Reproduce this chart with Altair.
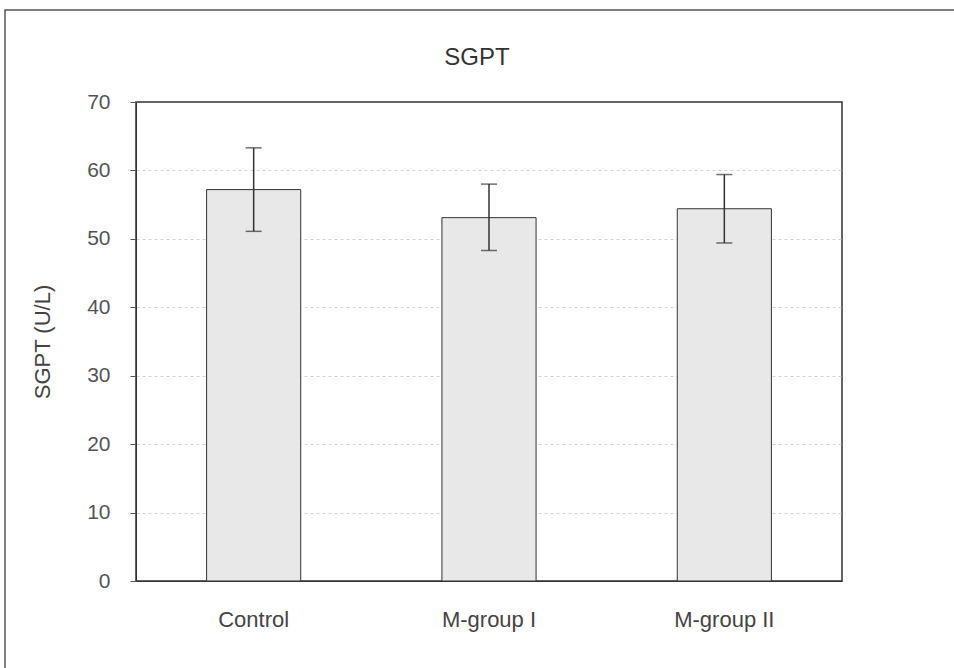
import altair as alt
import pandas as pd

groups = ["Control", "M-group I", "M-group II"]
means = [57.2, 53.1, 54.4]
err_low = [51.1, 48.3, 49.4]
err_high = [63.3, 58.0, 59.4]

df = pd.DataFrame({"group": groups, "mean": means, "lo": err_low, "hi": err_high})

FONT = "Liberation Sans"
x = alt.X("group:N", sort=groups, title=None,
          scale=alt.Scale(paddingInner=0.6, paddingOuter=0.3),
          axis=alt.Axis(labelAngle=0, ticks=False, labelPadding=28, labelFontSize=22,
                        labelColor="#444", domainColor="#333", labelFont=FONT, grid=False))
y_axis = alt.Axis(values=[0, 10, 20, 30, 40, 50, 60, 70], tickSize=6, tickColor="#555",
                  labelFontSize=21, labelColor="#555", labelPadding=20, labelFont=FONT,
                  domainColor="#333",
                  gridColor=alt.condition("datum.value >= 70 || datum.value <= 0",
                                          alt.value("transparent"), alt.value("#d2d2d2")),
                  gridDash=[3, 3], gridWidth=1,
                  title="SGPT (U/L)", titleFontSize=22, titleFontWeight="normal",
                  titleColor="#444", titleFont=FONT, titlePadding=32)

base = alt.Chart(df)
bars = base.mark_bar(fill="#e8e8e8", stroke="#333", strokeWidth=1).encode(
    x=x, y=alt.Y("mean:Q", scale=alt.Scale(domain=[0, 70], nice=False), axis=y_axis))
rules = base.mark_rule(color="#333", strokeWidth=1.5).encode(
    x=alt.X("group:N", sort=groups), y="lo:Q", y2="hi:Q")
cap_hi = base.mark_tick(color="#333", size=16, thickness=1.5, orient="horizontal").encode(
    x=alt.X("group:N", sort=groups), y="hi:Q")
cap_lo = base.mark_tick(color="#333", size=16, thickness=1.5, orient="horizontal").encode(
    x=alt.X("group:N", sort=groups), y="lo:Q")
frame = alt.Chart(pd.DataFrame({"a": [0]})).mark_rect(
    fill=None, stroke="#555", strokeWidth=1.5).encode(
    x=alt.value(-131), x2=alt.value(830), y=alt.value(-92), y2=alt.value(600))

chart = alt.layer(frame, bars, rules, cap_hi, cap_lo).properties(
    width=706, height=479,
    background="white",
    autosize=alt.AutoSizeParams(type="none"),
    padding={"left": 136, "top": 102, "right": 112, "bottom": 87},
    title=alt.Title("SGPT", fontSize=24, fontWeight="normal", color="#333", font=FONT,
                    anchor="middle", offset=0, dy=61, dx=-12),
).configure_view(stroke="#333", strokeWidth=1.5)

chart.save("out.html", embed_options={"renderer": "svg", "actions": False})
